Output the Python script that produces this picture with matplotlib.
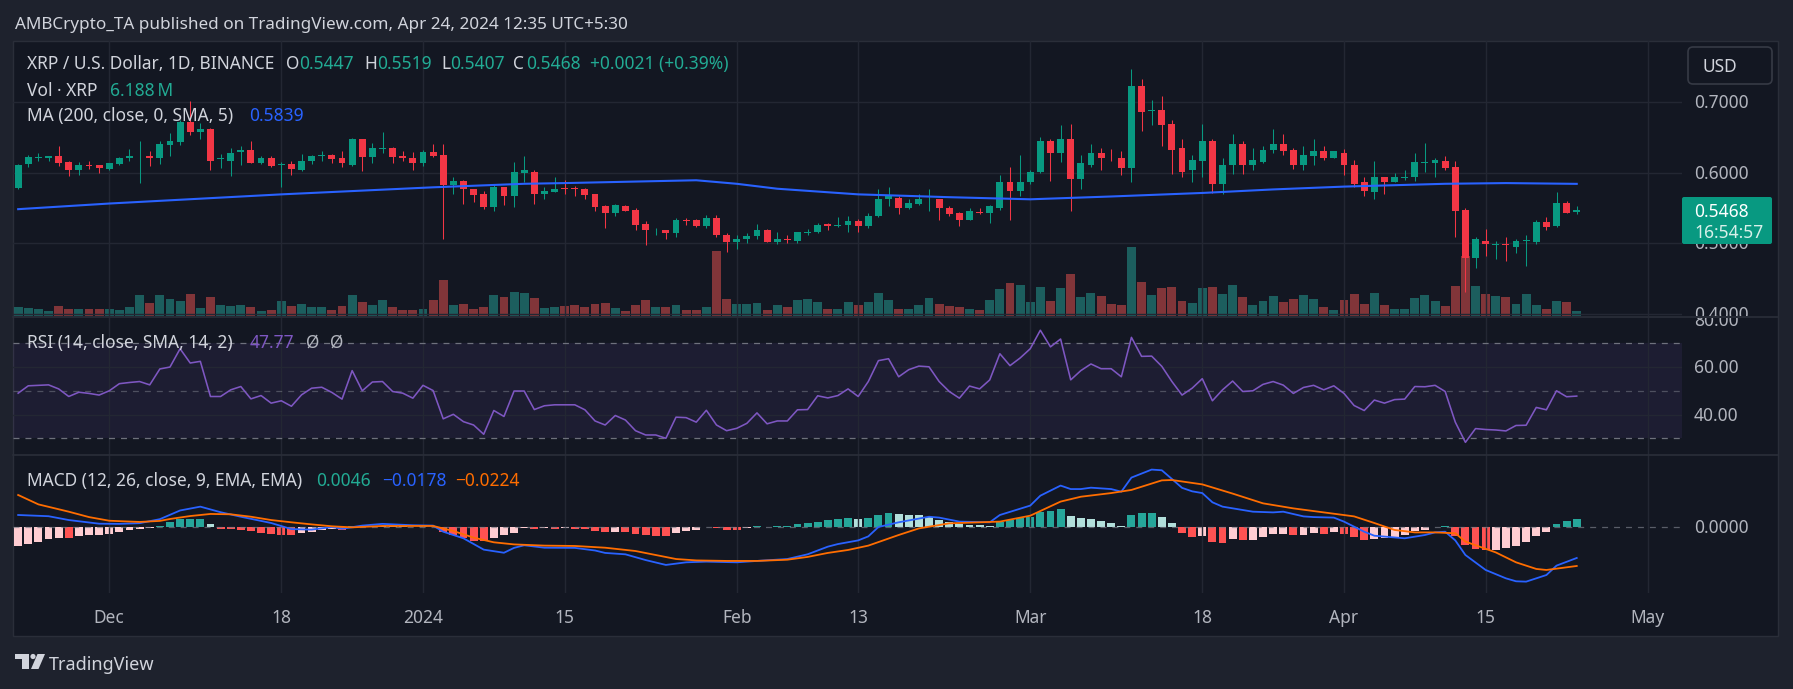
#!/usr/bin/env python
"""
plot.py

Redraws a TradingView daily XRP / U.S. Dollar chart: candles with volume
and a 200 day MA, an RSI pane and a MACD pane, dark theme.
"""

import matplotlib
matplotlib.use("Agg")
import matplotlib.dates as mdates
import matplotlib.pyplot as plt
import matplotlib.transforms as mtransforms
import numpy as np
import pandas as pd
from matplotlib.patches import Circle, FancyBboxPatch, Polygon, Rectangle

plt.rcParams['font.family'] = ['Noto Sans', 'DejaVu Sans']
plt.rcParams['lines.scale_dashes'] = False

# ---------------------------------------------------------------------------
# values (one daily candle per entry, from START_DATE)
# ---------------------------------------------------------------------------
START_DATE = "2023-11-22"

opens = [0.578, 0.612, 0.621, 0.620, 0.624, 0.615, 0.603, 0.611, 0.610, 0.605,
         0.612, 0.620, 0.623, 0.623, 0.620, 0.639, 0.643, 0.672, 0.658, 0.662,
         0.619, 0.617, 0.629, 0.632, 0.614, 0.621, 0.611, 0.612, 0.603, 0.616,
         0.624, 0.625, 0.620, 0.611, 0.647, 0.622, 0.634, 0.635, 0.623, 0.621,
         0.614, 0.629,
         0.625, 0.582, 0.588, 0.576, 0.569, 0.551, 0.579, 0.566, 0.599, 0.601,
         0.569, 0.573, 0.578, 0.578, 0.577, 0.569, 0.552, 0.543, 0.553, 0.547,
         0.527, 0.518, 0.519, 0.514, 0.533, 0.532, 0.524, 0.536, 0.512, 0.502,
         0.505, 0.510, 0.519, 0.502, 0.506, 0.503, 0.514, 0.515, 0.527, 0.524,
         0.525, 0.531, 0.524, 0.538, 0.562, 0.564, 0.549, 0.556, 0.562, 0.562,
         0.549, 0.542, 0.533, 0.544, 0.542, 0.550, 0.586, 0.574, 0.586, 0.601,
         0.645, 0.627, 0.648, 0.591, 0.611, 0.628, 0.621, 0.621, 0.607, 0.723,
         0.687, 0.688, 0.669, 0.635, 0.603, 0.617, 0.645, 0.583, 0.610, 0.641,
         0.610, 0.615, 0.632, 0.641, 0.632, 0.610, 0.624, 0.631, 0.621, 0.628,
         0.611, 0.587, 0.573, 0.593, 0.587, 0.593, 0.594, 0.614, 0.613, 0.617,
         0.608, 0.547, 0.479, 0.503, 0.497, 0.498, 0.495, 0.503, 0.502, 0.530,
         0.524, 0.557, 0.5447]

closes = [0.611, 0.622, 0.622, 0.623, 0.614, 0.603, 0.611, 0.610, 0.606, 0.613,
          0.621, 0.623, 0.624, 0.620, 0.641, 0.644, 0.672, 0.657, 0.662, 0.617,
          0.620, 0.628, 0.632, 0.614, 0.621, 0.609, 0.612, 0.605, 0.616, 0.624,
          0.625, 0.619, 0.613, 0.647, 0.622, 0.635, 0.635, 0.622, 0.620, 0.614,
          0.629, 0.623,
          0.582, 0.588, 0.576, 0.568, 0.551, 0.579, 0.566, 0.601, 0.603, 0.569,
          0.574, 0.577, 0.577, 0.577, 0.568, 0.551, 0.543, 0.554, 0.546, 0.526,
          0.518, 0.519, 0.514, 0.532, 0.531, 0.524, 0.536, 0.511, 0.502, 0.506,
          0.510, 0.519, 0.502, 0.506, 0.505, 0.515, 0.516, 0.526, 0.524, 0.526,
          0.531, 0.524, 0.539, 0.563, 0.566, 0.549, 0.557, 0.562, 0.563, 0.549,
          0.541, 0.533, 0.546, 0.542, 0.552, 0.586, 0.574, 0.587, 0.601, 0.645,
          0.627, 0.648, 0.591, 0.613, 0.628, 0.620, 0.620, 0.607, 0.723, 0.686,
          0.689, 0.668, 0.632, 0.601, 0.618, 0.645, 0.584, 0.611, 0.641, 0.611,
          0.618, 0.632, 0.641, 0.630, 0.611, 0.625, 0.631, 0.621, 0.630, 0.611,
          0.584, 0.574, 0.594, 0.586, 0.594, 0.594, 0.615, 0.615, 0.618, 0.607,
          0.546, 0.479, 0.505, 0.498, 0.498, 0.497, 0.503, 0.504, 0.530, 0.523,
          0.557, 0.543, 0.5468]

highs = [0.612, 0.625, 0.628, 0.624, 0.638, 0.617, 0.615, 0.617, 0.611, 0.614,
         0.622, 0.633, 0.644, 0.630, 0.645, 0.656, 0.675, 0.701, 0.670, 0.663,
         0.626, 0.635, 0.638, 0.644, 0.623, 0.623, 0.615, 0.617, 0.626, 0.625,
         0.631, 0.626, 0.631, 0.649, 0.648, 0.642, 0.658, 0.636, 0.630, 0.629,
         0.632, 0.641,
         0.640, 0.594, 0.590, 0.577, 0.574, 0.582, 0.580, 0.615, 0.624, 0.604,
         0.579, 0.593, 0.590, 0.581, 0.578, 0.569, 0.554, 0.556, 0.554, 0.550,
         0.531, 0.521, 0.519, 0.536, 0.536, 0.534, 0.540, 0.540, 0.514, 0.512,
         0.514, 0.527, 0.520, 0.515, 0.512, 0.516, 0.520, 0.528, 0.528, 0.537,
         0.539, 0.534, 0.542, 0.577, 0.580, 0.566, 0.562, 0.569, 0.577, 0.563,
         0.553, 0.544, 0.549, 0.550, 0.554, 0.597, 0.608, 0.625, 0.604, 0.651,
         0.647, 0.668, 0.669, 0.625, 0.641, 0.635, 0.634, 0.630, 0.747, 0.732,
         0.703, 0.708, 0.675, 0.648, 0.625, 0.669, 0.648, 0.620, 0.655, 0.645,
         0.635, 0.637, 0.662, 0.654, 0.635, 0.637, 0.647, 0.638, 0.631, 0.634,
         0.618, 0.594, 0.617, 0.594, 0.600, 0.603, 0.627, 0.642, 0.620, 0.623,
         0.617, 0.550, 0.509, 0.520, 0.503, 0.509, 0.506, 0.512, 0.532, 0.537,
         0.573, 0.559, 0.5519]

lows = [0.577, 0.608, 0.617, 0.616, 0.609, 0.595, 0.597, 0.605, 0.599, 0.604,
        0.611, 0.617, 0.585, 0.609, 0.612, 0.623, 0.639, 0.653, 0.648, 0.603,
        0.607, 0.595, 0.611, 0.613, 0.612, 0.608, 0.580, 0.597, 0.602, 0.612,
        0.616, 0.613, 0.608, 0.609, 0.602, 0.614, 0.627, 0.614, 0.616, 0.604,
        0.609, 0.622,
        0.505, 0.570, 0.556, 0.558, 0.548, 0.546, 0.554, 0.551, 0.587, 0.556,
        0.563, 0.572, 0.569, 0.566, 0.562, 0.545, 0.522, 0.539, 0.545, 0.518,
        0.497, 0.512, 0.505, 0.509, 0.526, 0.523, 0.521, 0.509, 0.487, 0.491,
        0.500, 0.506, 0.501, 0.498, 0.500, 0.500, 0.511, 0.514, 0.519, 0.523,
        0.515, 0.515, 0.521, 0.537, 0.553, 0.541, 0.548, 0.554, 0.546, 0.533,
        0.538, 0.524, 0.532, 0.541, 0.529, 0.547, 0.532, 0.567, 0.583, 0.600,
        0.588, 0.615, 0.546, 0.576, 0.608, 0.604, 0.617, 0.597, 0.586, 0.659,
        0.668, 0.638, 0.598, 0.594, 0.587, 0.594, 0.571, 0.569, 0.598, 0.598,
        0.604, 0.614, 0.627, 0.625, 0.605, 0.604, 0.610, 0.618, 0.620, 0.596,
        0.580, 0.567, 0.563, 0.570, 0.586, 0.590, 0.588, 0.601, 0.593, 0.603,
        0.508, 0.430, 0.465, 0.482, 0.478, 0.474, 0.486, 0.468, 0.499, 0.519,
        0.523, 0.542, 0.5407]

# volume in millions of XRP
volumes = [11.1, 9.9, 8.7, 6.2, 12.4, 8.7, 8.7, 8.7, 8.7, 8.7,
           7.4, 11.1, 26.0, 16.1, 26.0, 21.0, 18.6, 27.2, 9.9, 23.5,
           13.6, 12.4, 13.6, 11.1, 6.2, 7.4, 18.6, 12.4, 14.9, 11.1,
           11.1, 7.4, 12.4, 26.0, 17.3, 13.6, 19.8, 11.1, 7.4, 7.4,
           8.7, 19.8,
           44.6, 13.6, 14.9, 8.7, 11.1, 26.0, 23.5, 29.7, 28.5, 22.3,
           9.9, 11.1, 12.4, 13.6, 11.1, 14.9, 16.1, 9.9, 6.2, 13.6,
           19.8, 11.1, 11.1, 13.6, 7.4, 7.4, 11.1, 80.4, 21.0, 14.9,
           14.9, 16.1, 7.4, 13.6, 11.1, 19.8, 21.0, 17.3, 8.7, 8.7,
           17.3, 13.6,
           17.3, 28.5, 19.8, 8.7, 8.7, 13.6, 22.3, 14.9, 12.4, 11.1,
           8.7, 7.4, 19.8, 33.4, 40.8, 38.4, 17.3, 35.9, 18.6, 34.7,
           52.0, 23.5, 28.5, 24.8, 14.9, 13.6, 85.4, 42.1, 26.0, 34.7,
           35.9, 18.6, 16.1, 34.7, 35.9, 27.2, 38.4, 23.5, 13.6, 18.6,
           24.8,
           17.3, 21.0, 26.0, 21.0, 11.1, 7.4, 19.8, 27.2, 14.9, 28.5,
           13.6, 8.7, 8.7, 22.3, 26.0, 18.6, 12.4, 37.1, 74.3, 37.1,
           27.2, 24.8, 23.5, 14.9, 27.2, 13.6, 8.7, 18.6, 17.3, 6.188]

rsi = [49.0, 52.1, 52.3, 52.5, 50.8, 47.6, 49.4, 48.9, 48.2, 50.0,
       53.0, 53.5, 53.9, 52.5, 59.2, 60.0, 67.7, 61.7, 62.4, 47.6,
       47.6, 50.4, 51.8, 46.6, 48.0, 44.8, 45.8, 43.5, 48.3, 51.1,
       51.5, 49.3, 46.5, 58.5, 50.0, 53.7, 53.9, 49.7, 49.0, 46.9,
       52.3, 50.1, 38.2, 40.1, 37.0, 35.6, 31.7, 41.7, 39.2, 49.9,
       49.9, 42.1, 43.7, 44.1, 44.1, 44.1, 42.0, 37.3, 35.6, 39.6,
       37.7, 33.2, 31.4, 31.4, 30.0, 38.9, 38.7, 36.8, 41.8, 35.6,
       33.2, 34.2, 36.3, 40.7, 36.1, 37.3, 37.3, 42.0, 42.1, 47.9,
       47.0, 48.0, 50.8, 47.6, 53.9, 62.7, 63.5, 55.9, 58.9, 60.4,
       60.1, 53.9, 49.7, 46.9, 52.0, 50.8, 54.6, 65.6, 60.6, 63.8,
       67.7, 75.5, 68.5, 71.8, 54.6, 58.5, 61.3, 59.3, 59.3, 55.9,
       72.5, 64.5, 64.6, 60.3, 53.9, 48.2, 51.1, 55.1, 45.8, 50.4,
       54.1, 49.7, 50.0, 52.7, 53.9, 52.4, 48.9, 51.4, 52.3, 50.4,
       52.1, 48.9, 43.8, 41.7, 46.1, 44.8, 46.3, 46.5, 51.8, 51.7,
       52.3, 49.7, 36.8, 28.3, 34.1, 33.7, 33.5, 33.1, 35.4, 35.5,
       43.0, 42.0, 50.0, 47.5, 47.77]

macd_hist = [-0.0111, -0.0096, -0.0088, -0.0069, -0.0063, -0.0065, -0.0054, -0.0048, -0.0047, -0.0038,
             -0.0027, -0.0019, -0.0011, -0.0008, 0.0008, 0.0028, 0.0046, 0.0047, 0.0048, 0.0019,
             -0.0011, -0.0013, -0.0017, -0.0025, -0.0033, -0.0040, -0.0044, -0.0045, -0.0034, -0.0026,
             -0.0019, -0.0013, -0.0019, 0.0004, 0.0008, 0.0007, 0.0005, 0.0004, 0.0003, 0.0002,
             0.0004, 0.0001,
             -0.0027, -0.0046, -0.0061, -0.0080, -0.0082, -0.0061, -0.0046, -0.0034, -0.0008, -0.0009,
             -0.0008, -0.0009, -0.0008, -0.0009, -0.0011, -0.0021, -0.0029, -0.0027, -0.0031, -0.0042,
             -0.0046, -0.0050, -0.0051, -0.0034, -0.0023, -0.0015, -0.0002, -0.0008, -0.0015, -0.0016,
             -0.0008, 0.0004, 0.0002, 0.0004, 0.0008, 0.0015, 0.0023, 0.0031, 0.0038, 0.0046,
             0.0052, 0.0046, 0.0052, 0.0069, 0.0080, 0.0075, 0.0069, 0.0068, 0.0057, 0.0042,
             0.0027, 0.0019, 0.0011, 0.0009, 0.0007, 0.0029, 0.0038, 0.0050, 0.0057, 0.0088,
             0.0092, 0.0103, 0.0063, 0.0054, 0.0046, 0.0034, 0.0023, 0.0006, 0.0069, 0.0080,
             0.0081, 0.0057, 0.0023, -0.0034, -0.0056, -0.0050, -0.0086, -0.0092, -0.0069, -0.0075,
             -0.0073, -0.0056, -0.0042, -0.0041, -0.0046, -0.0045, -0.0036, -0.0040, -0.0027, -0.0040,
             -0.0056, -0.0075, -0.0069, -0.0065, -0.0061, -0.0046, -0.0023, -0.0015, 0.0002, 0.0006,
             -0.0052, -0.0103, -0.0126, -0.0132, -0.0131, -0.0123, -0.0107, -0.0086, -0.0050, -0.0029,
             0.0017, 0.0034, 0.0046]

# smooth lines, read at their turning points (candle number, value)
ma_bars = [0, 9, 26, 41, 50, 54, 67, 71, 75, 83, 92, 100, 108, 117, 124, 131, 141, 147, 154]
ma_vals = [0.548, 0.556, 0.569, 0.579, 0.584, 0.585, 0.589, 0.584, 0.577, 0.569,
           0.565, 0.562, 0.566, 0.571, 0.576, 0.580, 0.584, 0.585, 0.5839]

macd_bars = [0, 3, 5, 8, 10, 12, 14, 16, 18, 20, 22, 25, 27, 29, 31, 32, 34, 36, 39, 41,
             42, 44, 46, 48, 49, 50, 52, 55, 57, 58, 60, 62, 64, 66, 68, 71, 73, 76, 78, 80,
             81, 83, 84, 85, 87, 90, 91, 93, 96, 97, 100, 101, 103, 104, 105, 106, 108, 109, 110, 112,
             113, 114, 115, 116, 117, 118, 119, 122, 124, 125, 127, 128, 130, 131, 133, 134, 137, 139, 140, 141,
             142, 143, 145, 147, 148, 149, 151, 152, 154]
macd_vals = [0.0069, 0.0062, 0.0040, 0.0019, 0.0018, 0.0022, 0.0045, 0.0095, 0.0117, 0.0085,
             0.0059, 0.0023, -0.0012, -0.0015, 0.0000, -0.0010, 0.0008, 0.0018, 0.0010, 0.0008,
             -0.0027, -0.0065, -0.0130, -0.0148, -0.0120, -0.0105, -0.0119, -0.0120, -0.0135, -0.0149,
             -0.0157, -0.0190, -0.0218, -0.0203, -0.0199, -0.0203, -0.0195, -0.0184, -0.0157, -0.0113,
             -0.0098, -0.0077, -0.0054, 0.0000, 0.0027, 0.0059, 0.0054, 0.0031, 0.0027, 0.0069,
             0.0123, 0.0180, 0.0238, 0.0218, 0.0218, 0.0226, 0.0218, 0.0203, 0.0284, 0.0330,
             0.0326, 0.0276, 0.0225, 0.0205, 0.0195, 0.0142, 0.0117, 0.0088, 0.0084, 0.0088,
             0.0061, 0.0057, 0.0054, 0.0031, -0.0027, -0.0050, -0.0065, -0.0046, -0.0031, -0.0027,
             -0.0077, -0.0161, -0.0247, -0.0295, -0.0312, -0.0314, -0.0276, -0.0222, -0.0178]

signal_bars = [0, 2, 5, 7, 9, 12, 14, 15, 17, 19, 21, 23, 25, 27, 29, 31, 33, 36, 41, 43,
               45, 47, 49, 52, 55, 58, 61, 63, 65, 67, 70, 73, 76, 78, 80, 82, 84, 87, 89, 92,
               95, 97, 100, 103, 105, 108, 110, 113, 114, 117, 120, 123, 126, 129, 132, 134, 136, 138, 140, 142,
               143, 146, 148, 150, 151, 154]
signal_vals = [0.0184, 0.0130, 0.0088, 0.0057, 0.0036, 0.0029, 0.0035, 0.0046, 0.0063, 0.0075,
               0.0073, 0.0059, 0.0040, 0.0027, 0.0015, 0.0004, -0.0002, 0.0006, 0.0006, -0.0023,
               -0.0061, -0.0088, -0.0100, -0.0107, -0.0109, -0.0119, -0.0138, -0.0161, -0.0184, -0.0192,
               -0.0195, -0.0195, -0.0188, -0.0172, -0.0149, -0.0132, -0.0107, -0.0046, -0.0008, 0.0021,
               0.0027, 0.0031, 0.0065, 0.0146, 0.0174, 0.0195, 0.0213, 0.0268, 0.0270, 0.0245,
               0.0192, 0.0136, 0.0107, 0.0084, 0.0061, 0.0023, -0.0017, -0.0031, -0.0031, -0.0036,
               -0.0084, -0.0146, -0.0203, -0.0241, -0.0247, -0.0224]

tick_dates = ["2023-12-01", "2023-12-18", "2024-01-01", "2024-01-15", "2024-02-01", "2024-02-13",
              "2024-03-01", "2024-03-18", "2024-04-01", "2024-04-15", "2024-05-01"]
tick_labels = ["Dec", "18", "2024", "15", "Feb", "13", "Mar", "18", "Apr", "15", "May"]

price_ticks = [0.4, 0.5, 0.6, 0.7]
rsi_ticks = [80, 60, 40]

# ---------------------------------------------------------------------------
# colours and layout (pixel boxes of the original screenshot)
# ---------------------------------------------------------------------------
W, H = 1793, 689
OUTER = '#1e222d'
BG = '#131722'
GRID = '#232733'
BORDER = '#2a2e39'
TXT = '#d1d4dc'
AXTXT = '#b2b5be'
UP = '#089981'
DOWN = '#f23645'
FS = 12.5

fig = plt.figure(figsize=(W / 100, H / 100), dpi=100)
fig.patch.set_facecolor(OUTER)
fig.add_artist(Rectangle((13 / W, 1 - 636 / H), (1778 - 13) / W, (636 - 41) / H,
                         transform=fig.transFigure, facecolor=BG, edgecolor=BORDER,
                         lw=1, zorder=-5))


def px_axes(x0, y0, x1, y1):
    ax = fig.add_axes([x0 / W, 1 - y1 / H, (x1 - x0) / W, (y1 - y0) / H])
    ax.set_facecolor('none')
    return ax


dates = pd.date_range(START_DATE, periods=len(closes), freq='D')
x = mdates.date2num(dates)
o, c = np.array(opens), np.array(closes)
hi, lo = np.array(highs), np.array(lows)
up = c >= o
cols = np.where(up, UP, DOWN)

jan1 = mdates.date2num(pd.Timestamp("2024-01-01"))
xlim = (jan1 - 40.51, jan1 + 124.4)
ticks = mdates.date2num(pd.to_datetime(tick_dates))

# --- price pane with volume underneath ---
ax_v = px_axes(13, 41, 1682, 316)
ax_p = px_axes(13, 41, 1682, 316)
for ax in (ax_v, ax_p):
    ax.set_xlim(xlim)
    ax.set_axis_off()
ax_p.set_ylim(0.3965, 0.7865)
ax_v.set_ylim(0, 340.3)

for t in ticks:
    ax_v.axvline(t, color=GRID, lw=1)
for p in price_ticks:
    ax_p.axhline(p, color=GRID, lw=1, zorder=0)

ax_v.bar(x, volumes, width=0.88, color=np.where(up, '#26a69a', '#ef5350'), alpha=0.5, lw=0)

ax_p.vlines(x, lo, hi, colors=cols, lw=0.75, zorder=2)
body_h = np.maximum(np.abs(c - o), 0.0012)
body_mid = (o + c) / 2
ax_p.bar(x, body_h, bottom=body_mid - body_h / 2, width=0.68, color=cols, lw=0, zorder=3)
ax_p.plot(x[ma_bars], ma_vals, color='#2962ff', lw=1.5, zorder=4)

# --- RSI pane ---
ax_r = px_axes(13, 318, 1682, 455)
ax_r.set_xlim(xlim)
ax_r.set_ylim(22.97, 80.65)
ax_r.set_axis_off()
for t in ticks:
    ax_r.axvline(t, color=GRID, lw=1)
for v in (60, 40):
    ax_r.axhline(v, color=GRID, lw=1)
ax_r.axhspan(30, 70, color='#7e57c2', alpha=0.1, lw=0)
for v, a in ((70, 0.9), (50, 0.55), (30, 0.9)):
    ax_r.axhline(v, color='#787b86', lw=0.9, ls=(0, (4.3, 4.3)), alpha=a)
ax_r.plot(x, rsi, color='#7e57c2', lw=1.15)

# --- MACD pane ---
ax_m = px_axes(13, 455, 1682, 593)
ax_m.set_xlim(xlim)
ax_m.set_ylim(-0.03793, 0.04138)
ax_m.set_axis_off()
for t in ticks:
    ax_m.axvline(t, color=GRID, lw=1)
ax_m.axhline(0, color='#787b86', lw=0.9, ls=(0, (4.3, 4.3)), alpha=0.7)

hist = np.array(macd_hist)
prev = np.r_[hist[0], hist[:-1]]
hist_cols = np.where(hist >= 0,
                     np.where(hist >= prev, '#26a69a', '#b2dfdb'),
                     np.where(hist < prev, '#ff5252', '#ffcdd2'))
ax_m.bar(x, hist, width=0.78, color=hist_cols, lw=0)
ax_m.plot(x[macd_bars], macd_vals, color='#2962ff', lw=1.3)
ax_m.plot(x[signal_bars], signal_vals, color='#ff6d00', lw=1.3)

# date labels under the MACD pane
date_tr = mtransforms.blended_transform_factory(ax_m.transData, ax_m.transAxes)
for t, lab in zip(ticks, tick_labels):
    ax_m.text(t, -0.215, lab, transform=date_tr, ha='center', va='baseline',
              color=AXTXT, fontsize=FS, clip_on=False)


# --- right hand scales ---
def scale_axes(pane, y0, y1):
    sc = px_axes(1682, y0, 1778, y1)
    sc.set_ylim(pane.get_ylim())
    sc.set_axis_off()
    return sc


def scale_label(sc, value, text):
    tr = mtransforms.blended_transform_factory(sc.transAxes, sc.transData)
    tr = mtransforms.offset_copy(tr, fig=fig, y=-6.2, units='dots')
    sc.text(0.125, value, text, transform=tr, color=AXTXT, fontsize=FS,
            ha='left', va='baseline', clip_on=True)


sc_p = scale_axes(ax_p, 41, 316)
for p in price_ticks:
    scale_label(sc_p, p, f"{p:.4f}")
sc_r = scale_axes(ax_r, 318, 455)
for v in rsi_ticks:
    scale_label(sc_r, v, f"{v:.2f}")
sc_m = scale_axes(ax_m, 455, 593)
scale_label(sc_m, 0.0, "0.0000")

# --- overlay for header, legends, boxes and logo (pixel coordinates) ---
ov = fig.add_axes([0, 0, 1, 1])
ov.set_xlim(0, W)
ov.set_ylim(H, 0)
ov.set_axis_off()
ov.set_zorder(10)


def put(x0, y0, s, color=TXT, size=FS, **kw):
    ov.text(x0, y0, s, color=color, fontsize=size, ha='left', va='baseline', **kw)


# pane separators
for yy in (317, 455):
    ov.plot([13, 1778], [yy, yy], color=BORDER, lw=1.2)

put(15, 29.3, "AMBCrypto_TA published on TradingView.com, Apr 24, 2024 12:35 UTC+5:30", size=12.3)

green_txt = '#22ab94'
put(27, 69.3, "XRP / U.S. Dollar, 1D, BINANCE")
for lx, lab, vx, val in ((286, "O", 299, "0.5447"), (364, "H", 377, "0.5519"),
                         (441, "L", 450, "0.5407"), (513, "C", 526, "0.5468")):
    put(lx, 69.3, lab)
    put(vx, 69.3, val, color=green_txt)
put(590, 69.3, "+0.0021 (+0.39%)", color=green_txt)

put(27, 96, "Vol · XRP")
put(110, 96, "6.188\u2009M", color=green_txt)
put(27, 121, "MA (200, close, 0, SMA, 5)")
put(249, 121, "0.5839", color='#2962ff')

put(27, 347.7, "RSI (14, close, SMA, 14, 2)")
put(250, 347.7, "47.77", color='#7e57c2')
put(306, 347.7, "Ø", color=AXTXT)
put(330, 347.7, "Ø", color=AXTXT)

put(27, 485.7, "MACD (12, 26, close, 9, EMA, EMA)")
put(316, 485.7, "0.0046", color=green_txt)
put(382, 485.7, "\u22120.0178", color='#2962ff')
put(455, 485.7, "\u22120.0224", color='#ff6d00')

# currency box and last price label
ov.add_patch(FancyBboxPatch((1688, 47), 84, 37, boxstyle="round,pad=0,rounding_size=5",
                            facecolor=BG, edgecolor='#363a45', lw=1.2))
put(1702, 71.7, "USD")
ov.add_patch(FancyBboxPatch((1682, 197), 90, 47, boxstyle="round,pad=0,rounding_size=2",
                            facecolor=UP, edgecolor='none'))
put(1694, 216.7, "0.5468", color='white', fontweight='bold')
put(1694, 238.3, "16:54:57", color='#d8f0ea')

# TradingView logo
logo = '#d1d4dc'
ov.add_patch(Rectangle((15, 654), 14, 5, color=logo, lw=0))
ov.add_patch(Rectangle((22, 654), 7, 15, color=logo, lw=0))
ov.add_patch(Circle((33, 656.5), 2.6, color=logo, lw=0))
ov.add_patch(Polygon([(37.5, 654), (45, 654), (38.5, 669), (31, 669)], closed=True,
                     color=logo, lw=0))
put(49, 670, "TradingView", color=logo, size=13)

fig.savefig("out.png", dpi=100, facecolor=fig.get_facecolor())
